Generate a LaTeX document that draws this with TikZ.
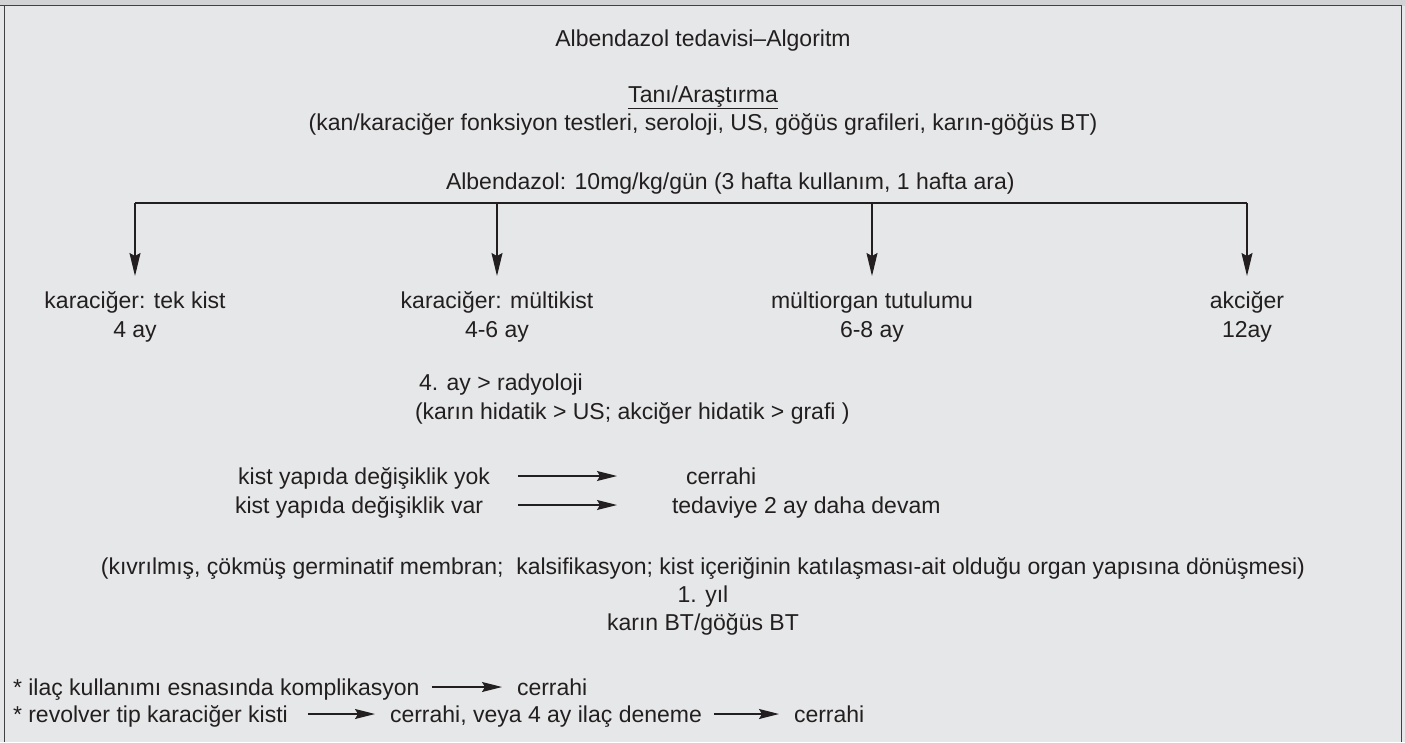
\documentclass[tikz,border=0pt]{standalone}
\usepackage{fontspec}
\setmainfont{Liberation Sans}
\usetikzlibrary{arrows.meta}
\definecolor{bg}{HTML}{E6E7E8}
\definecolor{band}{HTML}{D1D3D4}
\definecolor{ink}{HTML}{231F20}
\definecolor{framec}{HTML}{414042}
\newcommand{\myfs}{\fontsize{23}{28}\selectfont}
\tikzset{
  txt/.style={inner sep=0pt, outer sep=0pt, text=ink, font=\myfs},
  rowtxt/.style={txt, text height=17pt, text depth=1pt},
  conn/.style={draw=ink, line width=1.3pt},
  varrow/.style={conn, -{Stealth[length=23pt,width=11pt,inset=3pt]}},
  harrow/.style={conn, -{Stealth[length=20pt,width=10pt,inset=3pt]}},
}
\begin{document}
\begin{tikzpicture}[x=1pt,y=-1pt]
\useasboundingbox (0,0) rectangle (1405,742);
\fill[bg] (0,0) rectangle (1405,742);
\fill[band] (0,0) rectangle (1405,5.5);
\draw[framec, line width=1.5pt] (4.5,742) -- (4.5,5.5) -- (1401.5,5.5) -- (1401.5,742);
\draw[framec, line width=1.5pt] (0,5.5) -- (4.5,5.5);

\node[txt, anchor=base] (title) at (703,46) {Albendazol tedavisi–Algoritm};
\node[txt, anchor=base] (tani) at (703,102) {\underline{Tanı/Araştırma}};
\node[txt, anchor=base] (kan) at (703,130) {(kan/karaciğer fonksiyon testleri, seroloji, US, göğüs grafileri, karın-göğüs BT)};
\node[txt, anchor=base west] (dose) at (446,189) {Albendazol: 10mg/kg/gün (3 hafta kullanım, 1 hafta ara)};

\coordinate (h1) at (135,203);
\coordinate (h2) at (497,203);
\coordinate (h3) at (872,203);
\coordinate (h4) at (1247,203);

\node[rowtxt, anchor=base] (c1a) at (135,308) {karaciğer: tek kist};
\node[txt, anchor=base] (c1b) at (135,337) {4 ay};
\node[rowtxt, anchor=base] (c2a) at (497,308) {karaciğer: mültikist};
\node[txt, anchor=base] (c2b) at (497,337) {4-6 ay};
\node[rowtxt, anchor=base] (c3a) at (872,308) {mültiorgan tutulumu};
\node[txt, anchor=base] (c3b) at (872,337) {6-8 ay};
\node[rowtxt, anchor=base] (c4a) at (1247,308) {akciğer};
\node[txt, anchor=base] (c4b) at (1247,337) {12ay};

\draw[conn] (h1) -- (h4);
\draw[varrow, shorten >=15pt] (h1) -- (c1a.north);
\draw[varrow, shorten >=15pt] (h2) -- (c2a.north);
\draw[varrow, shorten >=15pt] (h3) -- (c3a.north);
\draw[varrow, shorten >=15pt] (h4) -- (c4a.north);

\node[txt, anchor=base west] (rad) at (419,390) {4. ay > radyoloji};
\node[txt, anchor=base west] (hid) at (415,419) {(karın hidatik > US; akciğer hidatik > grafi )};

\node[rowtxt, anchor=base east] (yok) at (490,484) {kist yapıda değişiklik yok};
\node[rowtxt, anchor=base west] (cer1) at (686,484) {cerrahi};
\node[rowtxt, anchor=base east] (var) at (483,513) {kist yapıda değişiklik var};
\node[rowtxt, anchor=base west] (dev) at (672,513) {tedaviye 2 ay daha devam};
\draw[harrow, shorten <=28pt, shorten >=69pt] (yok.east) -- (cer1.west);
\draw[harrow, shorten <=35pt, shorten >=55pt] (var.east) -- (dev.west);

\node[txt, anchor=base] (kiv) at (703,574) {(kıvrılmış, çökmüş germinatif membran;\ \ kalsifikasyon; kist içeriğinin katılaşması-ait olduğu organ yapısına dönüşmesi)};
\node[txt, anchor=base] (yil) at (703,602) {1. yıl};
\node[txt, anchor=base] (bt) at (703,630) {karın BT/göğüs BT};

\node[rowtxt, anchor=base west] (ilac) at (13,695) {* ilaç kullanımı esnasında komplikasyon};
\node[rowtxt, anchor=base west] (cer2) at (517,695) {cerrahi};
\draw[harrow, shorten <=12pt, shorten >=15pt] (ilac.east) -- (cer2.west);

\node[rowtxt, anchor=base west] (rev) at (13,722) {* revolver tip karaciğer kisti};
\node[rowtxt, anchor=base west] (dene) at (390,722) {cerrahi, veya 4 ay ilaç deneme};
\node[rowtxt, anchor=base west] (cer3) at (794,722) {cerrahi};
\draw[harrow, shorten <=20pt, shorten >=15pt] (rev.east) -- (dene.west);
\draw[harrow, shorten <=12pt, shorten >=15pt] (dene.east) -- (cer3.west);
\end{tikzpicture}
\end{document}
